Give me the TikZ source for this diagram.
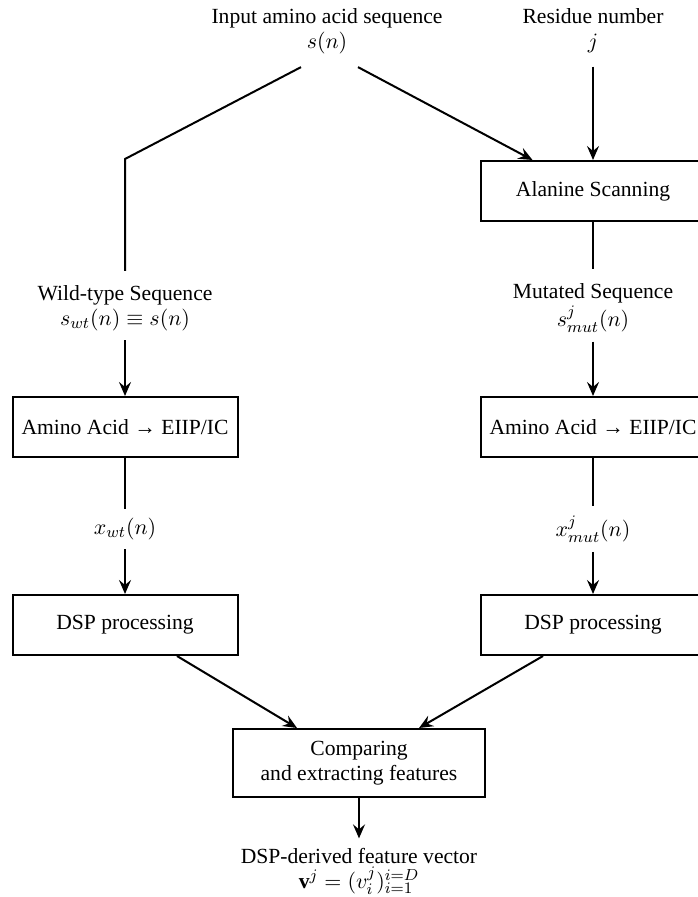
\documentclass[tikz,border=0pt]{standalone}
\usepackage{fontspec}
\setmainfont{Liberation Serif}
\usetikzlibrary{arrows.meta,calc}
\begin{document}
\begin{tikzpicture}[x=0.5pt,y=-0.5pt,
        font=\fontsize{10.8}{12.5}\selectfont,
        stage/.style={draw,line width=1pt,minimum width=112.5pt,minimum height=30pt,inner sep=0pt},
        signal/.style={align=center,inner sep=0pt},
        flow/.style={line width=1pt,-{Stealth[length=7pt,width=6pt,inset=2.5pt]}},
        wire/.style={line width=1pt}]
        % Define dimensions
        \def\leftx{125}
        \def\rightx{593}
        \def\midx{359}
        \useasboundingbox (0,0) rectangle (697,897);
        % Inputs
        \node[signal] (input) at (327,31) {Input amino acid sequence\\$s(n)$};
        \node[signal] (resnum) at (\rightx,31) {Residue number\\$j$};
        % Right branch
        \node[stage] (alanine) at (\rightx,191) {Alanine Scanning};
        \node[signal] (mutseq) at (\rightx,308) {Mutated Sequence\\$s^j_{mut}(n)$};
        \node[stage] (eiipR) at (\rightx,427) {Amino Acid → EIIP/IC};
        \node[signal] (xmut) at (\rightx,529) {$x^j_{mut}(n)$};
        \node[stage] (dspR) at (\rightx,625) {DSP processing};
        % Left branch
        \node[signal] (wtseq) at (\leftx,308) {Wild-type Sequence\\$s_{wt}(n)\equiv s(n)$};
        \node[stage] (eiipL) at (\leftx,427) {Amino Acid → EIIP/IC};
        \node[signal] (xwt) at (\leftx,529) {$x_{wt}(n)$};
        \node[stage] (dspL) at (\leftx,625) {DSP processing};
        % Merge
        \node[stage,minimum width=126pt,minimum height=34pt,align=center] (compare) at (\midx,763) {Comparing\\and extracting features};
        \node[signal] (vector) at (\midx,871) {DSP-derived feature vector\\$\mathbf{v}^j=(v^j_i)^{i=D}_{i=1}$};
        \coordinate (bend) at (\leftx,159);
        % Connectors
        \draw[wire] ($(input.south)+(-26,13)$) -- (bend) -- ($(wtseq.north)+(0,-14)$);
        \draw[flow] ($(input.south)+(31,13)$) -- ($(alanine.north west)+(53,0)$);
        \draw[flow] ($(resnum.south)+(0,13)$) -- (alanine);
        \draw[wire] (alanine) -- ($(mutseq.north)+(0,-14)$);
        \draw[flow] ($(mutseq.south)+(0,9)$) -- (eiipR);
        \draw[flow] ($(wtseq.south)+(0,9)$) -- (eiipL);
        \draw[wire] (eiipR) -- ($(xmut.north)+(0,-9)$);
        \draw[wire] (eiipL) -- ($(xwt.north)+(0,-9)$);
        \draw[flow] ($(xmut.south)+(0,9)$) -- (dspR);
        \draw[flow] ($(xwt.south)+(0,9)$) -- (dspL);
        \draw[flow] ($(dspL.south)+(52,0)$) -- ($(compare.north west)+(65,0)$);
        \draw[flow] ($(dspR.south)+(-50,0)$) -- ($(compare.north east)+(-67,0)$);
        \draw[flow] (compare) -- ($(vector.north)+(0,-9)$);
    \end{tikzpicture}
\end{document}
